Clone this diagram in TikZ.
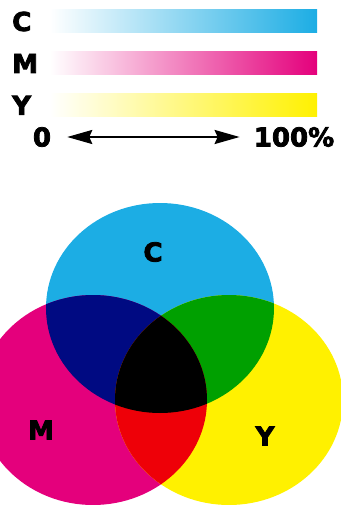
\documentclass[tikz,border=0pt]{standalone}
\usepackage{fontspec}
\setmainfont{DejaVu Sans}[BoldFeatures={FakeBold=3}]
\usetikzlibrary{arrows.meta, positioning}
\definecolor{cyanink}{HTML}{1CADE4}
\definecolor{magentaink}{HTML}{E4007C}
\definecolor{yellowink}{HTML}{FFF100}
\definecolor{blueink}{HTML}{000A82}
\definecolor{greenink}{HTML}{00A000}
\definecolor{redink}{HTML}{EE0008}
\definecolor{textcolor}{HTML}{000000}
\tikzset{
  inkbar/.style={
    minimum width=267pt,
    minimum height=23pt,
    inner sep=0pt,
    left color=white
  },
  inklabel/.style={
    text=textcolor,
    font=\bfseries\fontsize{26}{30}\selectfont,
    inner sep=0pt
  },
  scalearrow/.style={
    {Stealth[length=25pt, width=14pt, inset=3pt]}-{Stealth[length=25pt, width=14pt, inset=3pt]},
    line width=2.2pt,
    color=textcolor,
    shorten <= 16pt,
    shorten >= 14pt
  }
}

\begin{document}
\begin{tikzpicture}[x=1pt, y=-1pt, node distance=18.5pt]
  \useasboundingbox (0,0) rectangle (340,505);

  % ==================== GRADIENT BARS ====================
  \node (cbar) [inkbar, right color=cyanink] at (183.5,21.5) {};
  \node (mbar) [inkbar, right color=magentaink, below=of cbar] {};
  \node (ybar) [inkbar, right color=yellowink, below=of mbar] {};

  \node (clab) [inklabel, anchor=west] at ({12,0} |- cbar) {C};
  \node (mlab) [inklabel, anchor=west] at ({12,0} |- mbar) {M};
  \node (ylab) [inklabel, anchor=west] at ({12,0} |- ybar) {Y};

  % ==================== SCALE ====================
  \node (zero) [inklabel] at (42,137) {0};
  \node (full) [inklabel] at (294,137) {100\%};
  \draw [scalearrow] (zero.east) -- (full.west);

  % ==================== VENN ====================
  \def\cyanpath{(160,308) ellipse [x radius=114, y radius=105]}
  \def\magpath{(93,400) ellipse [x radius=114, y radius=105]}
  \def\yelpath{(229,400) ellipse [x radius=114, y radius=105]}

  \fill [cyanink] \cyanpath;
  \fill [magentaink] \magpath;
  \fill [yellowink] \yelpath;

  \begin{scope}
    \clip \cyanpath;
    \fill [blueink] \magpath;
    \fill [greenink] \yelpath;
  \end{scope}
  \begin{scope}
    \clip \magpath;
    \fill [redink] \yelpath;
  \end{scope}
  \begin{scope}
    \clip \cyanpath;
    \clip \magpath;
    \fill [black] \yelpath;
  \end{scope}

  \node (cname) [inklabel] at (153,252) {C};
  \node (mname) [inklabel] at (41,430) {M};
  \node (yname) [inklabel] at (265,436) {Y};

\end{tikzpicture}
\end{document}
